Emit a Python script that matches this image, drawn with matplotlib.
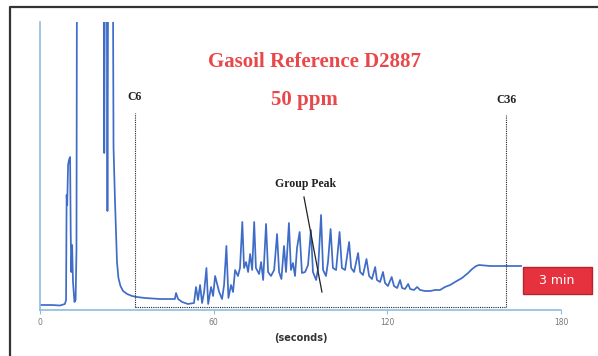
import matplotlib
matplotlib.use("Agg")
import matplotlib.pyplot as plt
from matplotlib.patches import Rectangle
from matplotlib.lines import Line2D

# retention time (seconds) and detector signal (arbitrary units, off-scale above 288)
time_s = [0, 4.1, 6.9, 8.6, 9.0, 9.2, 9.4, 9.7, 10.0, 10.4, 10.6, 10.8, 11.1, 11.4, 11.9,
          12.3, 12.6, 12.8, 21.9, 22.2, 22.5, 23.0, 23.3, 23.6, 25.1, 25.4, 25.9, 26.3,
          26.6, 27.1, 27.8, 28.7, 30.1, 31.8, 33.5, 36.3, 41.5, 46.6, 47.0, 47.7, 49.1,
          51.1, 53.2, 53.9, 54.6, 55.3, 56.0, 56.7, 57.5, 58.1, 59.1, 59.8, 60.5, 61.2,
          61.9, 62.9, 63.6, 64.4, 65.1, 66.0, 66.7, 67.4, 68.4, 69.1, 69.9, 70.5, 71.2,
          71.9, 72.6, 73.3, 74.0, 74.6, 75.7, 76.4, 77.1, 78.1, 78.8, 79.8, 80.9, 81.9,
          82.6, 83.4, 84.3, 85.0, 86.0, 86.7, 87.4, 88.1, 88.8, 89.7, 90.5, 91.6, 92.6,
          93.6, 94.3, 95.4, 96.1, 97.1, 97.8, 98.8, 99.5, 100.4, 101.2, 102.3, 103.5,
          104.3, 105.4, 106.8, 107.5, 108.5, 109.9, 110.6, 111.6, 112.8, 113.7, 114.7,
          115.8, 116.4, 117.5, 118.5, 119.2, 120.2, 121.5, 122.3, 123.4, 124.4, 125.1,
          126.1, 127.2, 127.9, 129.2, 130.3, 131.3, 133.0, 134.8, 136.5, 138.2, 139.9,
          141.7, 143.4, 145.8, 147.9, 149.3, 150.7, 151.7, 155.5, 159.0, 162.4, 166.2]
signal = [5, 5, 4.5, 6, 10, 115, 105, 145, 150, 153, 80, 38, 65, 28, 8,
          10, 60, 410, 410, 157, 410, 410, 99, 410, 410, 163, 110, 75,
          48, 32, 24, 19, 16, 14, 13, 12, 11, 11, 17, 11, 8,
          6, 7, 23, 10, 25, 7, 18, 42, 6, 23, 14, 34, 26,
          18, 11, 25, 64, 12, 25, 18, 40, 34, 42, 88, 42, 48,
          38, 56, 40, 88, 42, 36, 48, 30, 86, 38, 34, 40, 76,
          38, 31, 64, 38, 87, 40, 47, 34, 62, 78, 37, 38, 45,
          80, 38, 30, 42, 95, 40, 34, 48, 81, 42, 40, 78,
          42, 40, 68, 42, 38, 57, 38, 35, 51, 34, 31,
          43, 30, 28, 38, 27, 24, 33, 24, 22, 30, 22,
          21, 26, 21, 20, 23, 20, 19, 19, 20, 20, 23,
          25, 28, 32, 37, 41, 44, 45, 44, 44, 44, 44]

xticks = [0, 60, 120, 180]
c6_time, c36_time = 32.8, 161.0
c6_top, c36_top = 197, 195
marker_base = 3
group_peak_text = (91.6, 126)
group_peak_line = ([91.2, 97.4], [113, 18])

fig = plt.figure(figsize=(5.98, 3.56), dpi=100)
W, H = 598, 356
ax = fig.add_axes([40 / W, 1 - 310 / H, 521 / W, 288 / H])

ax.plot(time_s, signal, color="#3f6cc6", lw=1.25)
ax.set_xlim(0, 180)
ax.set_ylim(0, 288)

for s in ["top", "right"]:
    ax.spines[s].set_visible(False)
for s in ["left", "bottom"]:
    ax.spines[s].set_color("#8dbcdf")
    ax.spines[s].set_linewidth(1.2)
ax.set_yticks([])
ax.set_xticks(xticks)
ax.tick_params(axis="x", length=3, color="#8dbcdf", labelsize=5.5,
               labelcolor="#777777", pad=3)
ax.set_xlabel("(seconds)", fontsize=7, fontweight="bold", color="#333333", labelpad=4)

# carbon range markers
dot = (0, (1, 1))
ax.plot([c6_time, c6_time], [marker_base, c6_top], color="#222222", lw=0.8, ls=dot)
ax.plot([c36_time, c36_time], [marker_base, c36_top], color="#222222", lw=0.8, ls=dot)
ax.plot([c6_time, c36_time], [marker_base, marker_base], color="#222222", lw=0.8, ls=dot)
ax.text(c6_time, c6_top + 16, "C6", ha="center", va="center", fontsize=8.5,
        fontweight="bold", family="Liberation Serif", color="#222222")
ax.text(c36_time, c36_top + 15, "C36", ha="center", va="center", fontsize=8.5,
        fontweight="bold", family="Liberation Serif", color="#222222")

ax.text(*group_peak_text, "Group Peak", ha="center", va="center", fontsize=8.5,
        fontweight="bold", family="Liberation Serif", color="#222222")
ax.plot(*group_peak_line, color="#222222", lw=0.9)

# titles
red = "#e8484a"
fig.text(315 / W, 1 - 62 / H, "Gasoil Reference D2887", ha="center", va="center",
         fontsize=15, fontweight="bold", family="Liberation Serif", color=red)
fig.text(304 / W, 1 - 100 / H, "50 ppm", ha="center", va="center",
         fontsize=15, fontweight="bold", family="Liberation Serif", color=red)

# 3 min badge
fig.patches.append(Rectangle((523 / W, 1 - 294 / H), 69 / W, 27 / H,
                             transform=fig.transFigure, facecolor="#e6323f",
                             edgecolor="#b3262f", lw=1))
fig.text(557 / W, 1 - 281 / H, "3 min", ha="center", va="center", fontsize=9,
         color="white")

# outer frame (top and left)
fig.lines.append(Line2D([10 / W, 10 / W, 1], [0, 1 - 7 / H, 1 - 7 / H],
                        transform=fig.transFigure, color="#333333", lw=1.6))

fig.savefig("out.png", dpi=100)
